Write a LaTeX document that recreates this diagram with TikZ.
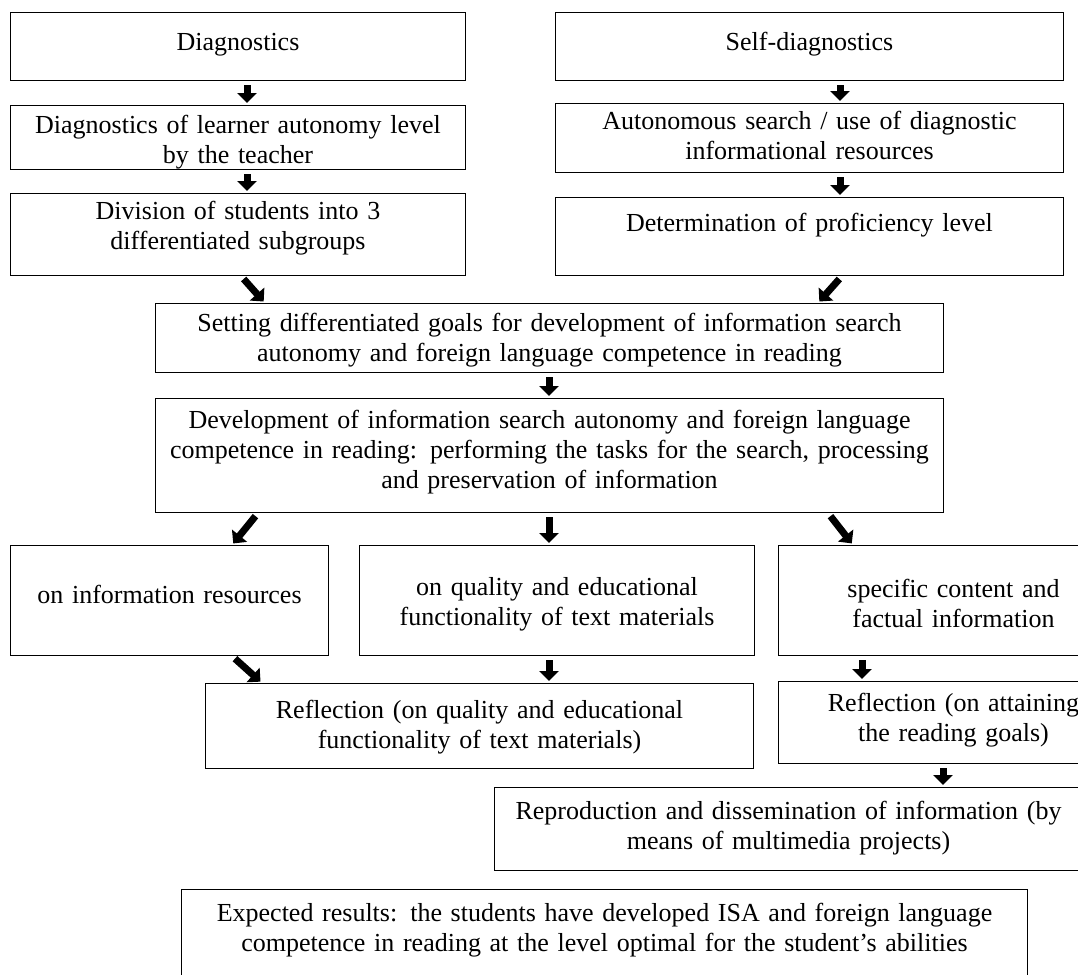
\documentclass[tikz,border=0pt]{standalone}
\usepackage{fontspec}
\setmainfont{Liberation Serif}
\usetikzlibrary{arrows.meta}

\tikzset{
  box/.style={draw, line width=1pt, anchor=north west, align=center, inner sep=0pt,
    font=\fontsize{26}{30}\selectfont},
  fat/.style={line width=7pt, -{Triangle[width=19pt,length=10pt]}, shorten <=4pt, shorten >=2pt},
}

\begin{document}
\begin{tikzpicture}[x=1pt, y=-1pt]
\useasboundingbox (0,0) rectangle (1078,974) ;

% teacher side
\node [box, text width=455pt, text height=38pt, text depth=30pt] (diag) at (10,12) {Diagnostics} ;
\node [box, text width=455pt, text height=28pt, text depth=36pt] (diagT) at (10,105)
  {Diagnostics of learner autonomy level\\by the teacher} ;
\node [box, text width=455pt, text height=26pt, text depth=56pt] (divi) at (10,193)
  {Division of students into 3\\differentiated subgroups} ;

% student side
\node [box, text width=508pt, text height=38pt, text depth=30pt] (self) at (555,12) {Self-diagnostics} ;
\node [box, text width=508pt, text height=26pt, text depth=43pt] (selfT) at (555,103)
  {Autonomous search / use of diagnostic\\informational resources} ;
\node [box, text width=508pt, text height=34pt, text depth=44pt] (selfL) at (555,197)
  {Determination of proficiency level} ;

% middle
\node [box, text width=788pt, text height=28pt, text depth=41pt] (goal) at (155,303)
  {Setting differentiated goals for development of information search\\autonomy and foreign language competence in reading} ;
\node [box, text width=788pt, text height=30pt, text depth=84pt] (dev) at (155,398)
  {Development of information search autonomy and foreign language\\competence in reading: performing the tasks for the search, processing\\and preservation of information} ;

% three kinds of tasks
\node [box, text width=318pt, text height=58pt, text depth=52pt] (res) at (10,545) {on information resources} ;
\node [box, text width=395pt, text height=50pt, text depth=60pt] (qual) at (359,545)
  {on quality and educational\\functionality of text materials} ;
\node [box, text width=350pt, text height=52pt, text depth=58pt] (spec) at (778,545)
  {specific content and\\factual information} ;

% reflection
\node [box, text width=548pt, text height=35pt, text depth=50pt] (refl) at (205,683)
  {Reflection (on quality and educational\\functionality of text materials)} ;
\node [box, text width=350pt, text height=30pt, text depth=52pt] (refg) at (778,681)
  {Reflection (on attaining\\the reading goals)} ;
\node [box, text width=588pt, text height=32pt, text depth=51pt] (repr) at (494,787)
  {Reproduction and dissemination of information (by\\means of multimedia projects)} ;

\node [box, text width=846pt, text height=32pt, text depth=79pt] (expt) at (181,889)
  {Expected results: the students have developed ISA and foreign language\\competence in reading at the level optimal for the student's abilities} ;

% arrows
\draw [fat] ([xshift=237pt]diag.south west) to ([xshift=237pt]diagT.north west) ;
\draw [fat] ([xshift=237pt]diagT.south west) to ([xshift=237pt]divi.north west) ;
\draw [fat] ([xshift=285pt]self.south west) to ([xshift=285pt]selfT.north west) ;
\draw [fat] ([xshift=285pt]selfT.south west) to ([xshift=285pt]selfL.north west) ;

\draw [fat] ([xshift=231pt]divi.south west) to ([xshift=110pt]goal.north west) ;
\draw [fat] ([xshift=287pt]selfL.south west) to ([xshift=663pt]goal.north west) ;
\draw [fat] ([xshift=394pt]goal.south west) to ([xshift=394pt]dev.north west) ;

\draw [fat] ([xshift=103pt]dev.south west) to ([xshift=222pt]res.north west) ;
\draw [fat] ([xshift=394pt]dev.south west) to ([xshift=190pt]qual.north west) ;
\draw [fat] ([xshift=673pt]dev.south west) to ([xshift=75pt]spec.north west) ;

\draw [fat] ([xshift=222pt]res.south west) to ([xshift=57pt]refl.north west) ;
\draw [fat] ([xshift=190pt]qual.south west) to ([xshift=344pt]refl.north west) ;
\draw [fat] ([xshift=84pt]spec.south west) to ([xshift=84pt]refg.north west) ;
\draw [fat] ([xshift=165pt]refg.south west) to ([xshift=449pt]repr.north west) ;

\end{tikzpicture}
\end{document}
